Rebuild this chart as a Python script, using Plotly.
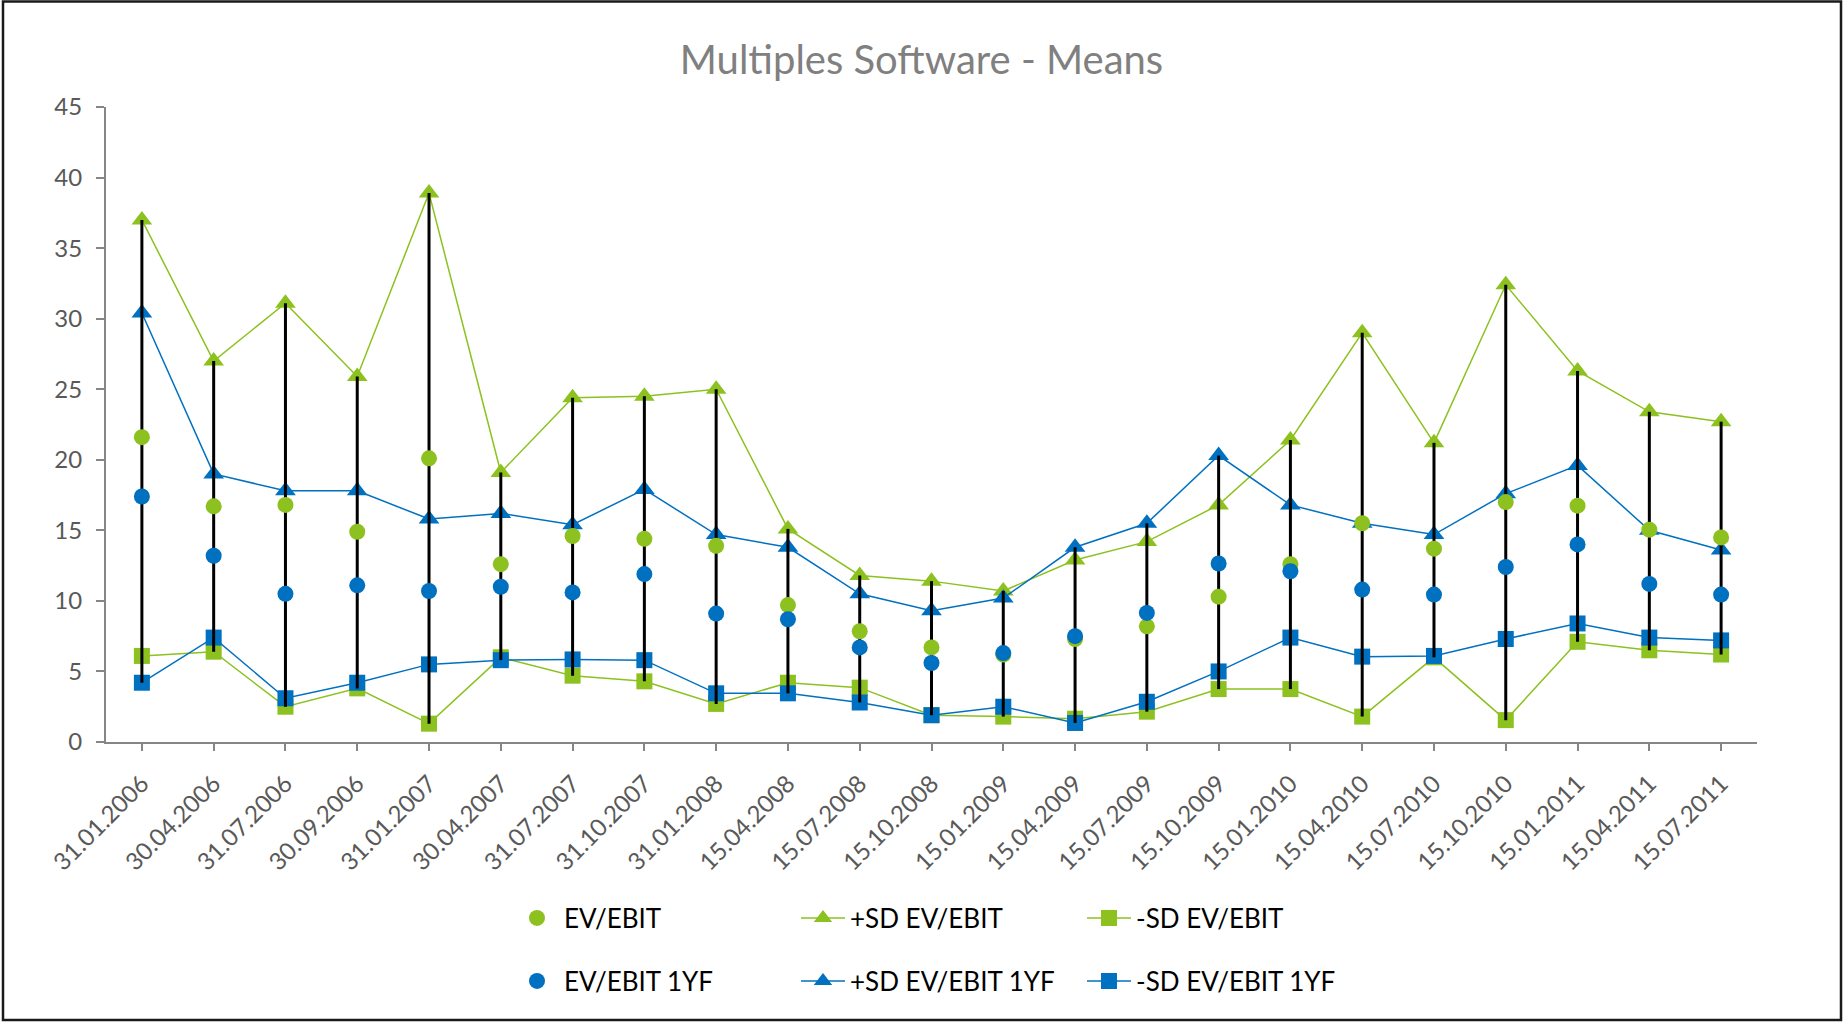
import plotly.graph_objects as go

categories = ["31.01.2006", "30.04.2006", "31.07.2006", "30.09.2006", "31.01.2007",
              "30.04.2007", "31.07.2007", "31.10.2007", "31.01.2008", "15.04.2008",
              "15.07.2008", "15.10.2008", "15.01.2009", "15.04.2009", "15.07.2009",
              "15.10.2009", "15.01.2010", "15.04.2010", "15.07.2010", "15.10.2010",
              "15.01.2011", "15.04.2011", "15.07.2011"]

ev_ebit = [21.6, 16.7, 16.8, 14.9, 20.1, 12.6, 14.6, 14.4, 13.9, 9.7, 7.85, 6.7,
           6.2, 7.3, 8.2, 10.3, 12.6, 15.5, 13.7, 17.0, 16.75, 15.05, 14.5]
plus_sd_ev_ebit = [37.0, 27.0, 31.1, 25.9, 38.9, 19.1, 24.4, 24.5, 25.0, 15.1, 11.8, 11.4,
                   10.7, 12.9, 14.2, 16.8, 21.4, 29.0, 21.2, 32.4, 26.3, 23.4, 22.7]
minus_sd_ev_ebit = [6.1, 6.4, 2.5, 3.8, 1.3, 6.0, 4.7, 4.3, 2.7, 4.2, 3.85, 1.9,
                    1.8, 1.65, 2.15, 3.75, 3.75, 1.8, 6.0, 1.55, 7.1, 6.5, 6.2]
ev_ebit_1yf = [17.4, 13.2, 10.5, 11.1, 10.7, 11.0, 10.6, 11.9, 9.1, 8.7, 6.7, 5.6,
               6.3, 7.5, 9.15, 12.65, 12.1, 10.8, 10.45, 12.4, 14.0, 11.2, 10.45]
plus_sd_ev_ebit_1yf = [30.4, 19.0, 17.8, 17.8, 15.8, 16.2, 15.4, 17.9, 14.7, 13.8, 10.5, 9.3,
                       10.2, 13.8, 15.5, 20.3, 16.8, 15.5, 14.7, 17.6, 19.6, 15.0, 13.6]
minus_sd_ev_ebit_1yf = [4.2, 7.4, 3.1, 4.2, 5.5, 5.8, 5.85, 5.8, 3.45, 3.45, 2.8, 1.9,
                        2.5, 1.35, 2.85, 5.0, 7.4, 6.05, 6.1, 7.3, 8.4, 7.4, 7.2]

GREEN = "#8CC11F"
BLUE = "#0070C0"
FONT = "Lato"

W, H = 1843, 1022
ML, MR, MT, MB = 106, 86, 107, 280
PW, PH = W - ML - MR, H - MT - MB

fig = go.Figure()

def line_trace(name, y, color, symbol, size, legend, rank):
    return go.Scatter(x=categories, y=y, name=name, mode="lines+markers",
                      line=dict(color=color, width=1.5),
                      marker=dict(symbol=symbol, size=size, color=color),
                      legend=legend, legendrank=rank)

fig.add_trace(line_trace("+SD EV/EBIT", plus_sd_ev_ebit, GREEN, "triangle-up", 18, "legend", 2))
fig.add_trace(line_trace("-SD EV/EBIT", minus_sd_ev_ebit, GREEN, "square", 16, "legend", 3))
fig.add_trace(line_trace("+SD EV/EBIT 1YF", plus_sd_ev_ebit_1yf, BLUE, "triangle-up", 18, "legend2", 2))
fig.add_trace(line_trace("-SD EV/EBIT 1YF", minus_sd_ev_ebit_1yf, BLUE, "square", 16, "legend2", 3))

# high-low lines
series = [ev_ebit, plus_sd_ev_ebit, minus_sd_ev_ebit, ev_ebit_1yf, plus_sd_ev_ebit_1yf, minus_sd_ev_ebit_1yf]
hx, hy = [], []
for i, c in enumerate(categories):
    vals = [s[i] for s in series]
    hx += [c, c, None]
    hy += [max(vals), min(vals), None]
fig.add_trace(go.Scatter(x=hx, y=hy, mode="lines", line=dict(color="black", width=3),
                         showlegend=False, hoverinfo="skip"))

fig.add_trace(go.Scatter(x=categories, y=ev_ebit, name="EV/EBIT", mode="markers",
                         marker=dict(symbol="circle", size=16, color=GREEN),
                         legend="legend", legendrank=1))
fig.add_trace(go.Scatter(x=categories, y=ev_ebit_1yf, name="EV/EBIT 1YF", mode="markers",
                         marker=dict(symbol="circle", size=16, color=BLUE),
                         legend="legend2", legendrank=1))

def px_to_paper_x(px):
    return (px - ML) / PW

def px_to_paper_y(py):
    return (H - MB - py) / PH

legend_common = dict(orientation="h", xanchor="left", yanchor="middle",
                     font=dict(family=FONT, size=26, color="#000000"),
                     itemwidth=44, entrywidth=227,
                     bgcolor="rgba(0,0,0,0)", traceorder="normal")

fig.update_layout(
    width=W, height=H,
    margin=dict(l=ML, r=MR, t=MT, b=MB),
    paper_bgcolor="white", plot_bgcolor="white",
    title=dict(text="Multiples Software - Means", x=0.5, xref="container", xanchor="center",
               y=1 - 60 / H, yanchor="middle",
               font=dict(family=FONT, size=40, color="#808080")),
    xaxis=dict(type="category", range=[-0.5, 22.5], showgrid=False, zeroline=False,
               showline=True, linecolor="#868686", linewidth=2,
               ticks="outside", ticklen=7, tickcolor="#868686", tickwidth=1.5,
               tickangle=-45, ticklabelstandoff=9,
               tickfont=dict(family=FONT, size=24, color="#595959")),
    yaxis=dict(range=[0, 45], dtick=5, tick0=0, showgrid=False, zeroline=False,
               showline=True, linecolor="#868686", linewidth=2,
               ticks="outside", ticklen=8, tickcolor="#868686", tickwidth=1.5,
               ticklabelstandoff=9,
               tickfont=dict(family=FONT, size=24, color="#595959")),
    legend=dict(x=px_to_paper_x(510), y=px_to_paper_y(918), **legend_common),
    legend2=dict(x=px_to_paper_x(510), y=px_to_paper_y(981), **legend_common),
    showlegend=True,
)

# chart frame
fig.add_shape(type="rect", xref="paper", yref="paper",
              x0=px_to_paper_x(3), x1=px_to_paper_x(1841),
              y0=px_to_paper_y(1020), y1=px_to_paper_y(1.5),
              line=dict(color="#1a1a1a", width=2.5), layer="above")

fig.write_html("out.html", config={"displayModeBar": False},
               post_script="document.body.style.margin='0';document.body.style.overflow='hidden';")
